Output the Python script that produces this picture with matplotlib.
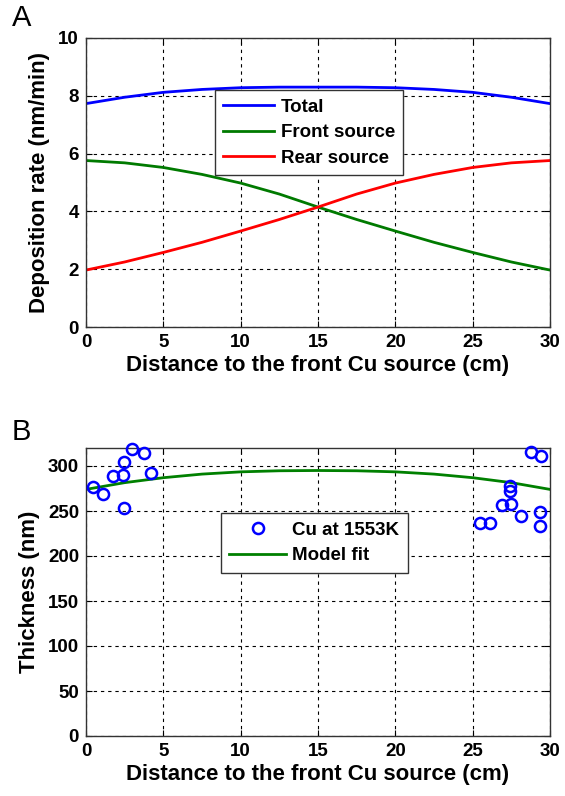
import matplotlib
matplotlib.use("Agg")
import matplotlib.pyplot as plt
from matplotlib import font_manager as fm

# ---------------- data ----------------
x_rate = [0, 2.5, 5, 7.5, 10, 12.5, 15, 17.5, 20, 22.5, 25, 27.5, 30]
total_rate = [7.73, 7.95, 8.12, 8.22, 8.28, 8.30, 8.30, 8.30, 8.28, 8.22, 8.12, 7.95, 7.73]
front_rate = [5.76, 5.68, 5.52, 5.28, 4.98, 4.60, 4.15, 3.72, 3.32, 2.93, 2.58, 2.25, 1.97]
rear_rate = [1.97, 2.25, 2.58, 2.93, 3.32, 3.72, 4.15, 4.60, 4.98, 5.28, 5.52, 5.68, 5.76]

x_meas = [0.43, 1.12, 1.76, 2.41, 2.46, 2.95, 3.75, 4.2, 2.46,
          28.75, 29.4, 27.4, 27.4, 26.87, 27.45, 28.1, 25.47, 26.1, 29.35, 29.35]
thick_meas = [277, 268.7, 289, 289.7, 304.4, 319, 314.7, 292.6, 253.8,
              315.5, 311, 277.9, 272.3, 256.5, 257.6, 244.7, 236.6, 236.6, 249, 233.6]

x_fit = [0, 2.5, 5, 7.5, 10, 12.5, 15, 17.5, 20, 22.5, 25, 27.5, 30]
thick_fit = [274, 281.5, 287, 291, 293.5, 294.7, 295, 294.7, 293.5, 291, 287, 281.5, 274]

x_ticks = [0, 5, 10, 15, 20, 25, 30]
rate_ticks = [0, 2, 4, 6, 8, 10]
thick_ticks = [0, 50, 100, 150, 200, 250, 300]

# ---------------- fonts ----------------
names = {f.name for f in fm.fontManager.ttflist}
fam = ['Liberation Sans Narrow'] if 'Liberation Sans Narrow' in names else ['Liberation Sans']
fam = fam + ['DejaVu Sans']
plt.rcParams['font.family'] = fam
plt.rcParams['font.weight'] = 'bold'

fig = plt.figure(figsize=(5.65, 7.96), dpi=100)
W, H = 565, 796

def ax_rect(l, t, r, b):
    return [l / W, 1 - b / H, (r - l) / W, (b - t) / H]

ax1 = fig.add_axes(ax_rect(86, 38, 550, 327))
ax2 = fig.add_axes(ax_rect(86, 448, 550, 736))

grid_kw = dict(color='black', linestyle=(0, (3, 3.5)), linewidth=0.8)

def style(ax):
    ax.set_xlim(0, 30)
    ax.set_xticks(x_ticks)
    ax.grid(True, **grid_kw)
    ax.set_axisbelow(True)
    ax.tick_params(direction='in', length=4, width=0.8, labelsize=13.5, pad=5,
                   top=True, right=True)
    for lab in ax.get_xticklabels() + ax.get_yticklabels():
        lab.set_fontweight('bold')
    for s in ax.spines.values():
        s.set_linewidth(1.0)
        s.set_color('#333333')
    ax.set_xlabel('Distance to the front Cu source (cm)', fontsize=16,
                  fontweight='bold', labelpad=3)

# ---- panel A ----
ax1.plot(x_rate, total_rate, color='#0000ff', lw=2, label='Total')
ax1.plot(x_rate, front_rate, color='#007a00', lw=2, label='Front source')
ax1.plot(x_rate, rear_rate, color='#ff0000', lw=2, label='Rear source')
ax1.set_ylim(0, 10)
ax1.set_yticks(rate_ticks)
style(ax1)
ax1.set_ylabel('Deposition rate (nm/min)', fontsize=16, fontweight='bold', labelpad=6)
leg1 = ax1.legend(loc='upper left', bbox_to_anchor=((215 - 86) / 464, (327 - 90) / 289),
                  borderaxespad=0, frameon=True, fancybox=False, edgecolor='#333333',
                  handlelength=2.7, handletextpad=0.35, borderpad=0.45, labelspacing=0.45,
                  prop={'weight': 'bold', 'size': 13.5, 'family': fam})
leg1.get_frame().set_linewidth(1.0)
leg1.get_frame().set_alpha(1)

# ---- panel B ----
ax2.plot(x_meas, thick_meas, linestyle='none', marker='o', markersize=8,
         markerfacecolor='none', markeredgecolor='#0000ff', markeredgewidth=1.8,
         label='Cu at 1553K', clip_on=False, zorder=5)
ax2.plot(x_fit, thick_fit, color='#008000', lw=2, label='Model fit')
ax2.set_ylim(0, 320)
ax2.set_yticks(thick_ticks)
style(ax2)
ax2.set_ylabel('Thickness (nm)', fontsize=16, fontweight='bold', labelpad=6)
leg2 = ax2.legend(loc='upper left', bbox_to_anchor=((221 - 86) / 464, (736 - 513) / 288),
                  borderaxespad=0, frameon=True, fancybox=False, edgecolor='#333333',
                  handlelength=3.0, handletextpad=0.35, borderpad=0.45, labelspacing=0.45,
                  prop={'weight': 'bold', 'size': 13.5, 'family': fam})
leg2.get_frame().set_linewidth(1.0)
leg2.get_frame().set_alpha(1)

fig.text(12 / W, 1 - 18 / H, 'A', fontsize=21, fontweight='normal', va='center', ha='left',
         family=['Liberation Sans', 'DejaVu Sans'])
fig.text(12 / W, 1 - 432 / H, 'B', fontsize=21, fontweight='normal', va='center', ha='left',
         family=['Liberation Sans', 'DejaVu Sans'])

fig.savefig('out.png', dpi=100)
